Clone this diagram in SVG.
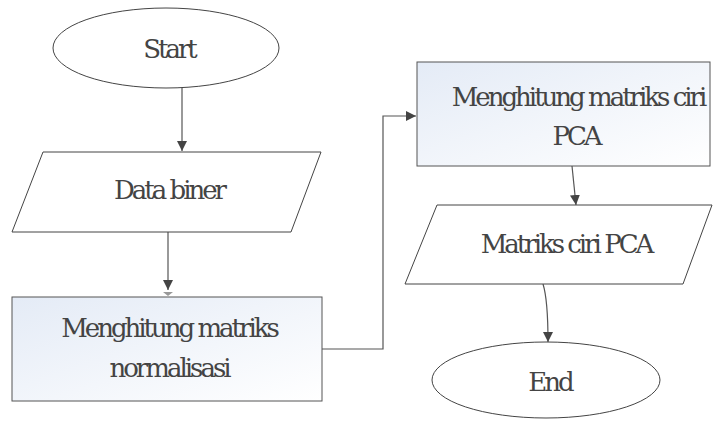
<svg xmlns="http://www.w3.org/2000/svg" width="713" height="421" viewBox="0 0 713 421">
<style>
.sh{fill:#fff;stroke:#444;stroke-width:1}
.bx{fill:url(#g);stroke:#555;stroke-width:1}
.t{font-family:'DejaVu Serif',serif;font-size:26px;letter-spacing:-3px;fill:#444;text-anchor:middle}
.c{fill:none;stroke:#555;stroke-width:1.2}
</style>
<defs>
<linearGradient id="g" x1="0" y1="0" x2="1" y2="1">
<stop offset="0" stop-color="#e4ebf6"/>
<stop offset="1" stop-color="#ffffff"/>
</linearGradient>
<marker id="a" viewBox="0 0 10 10" refX="10" refY="5" markerWidth="10" markerHeight="10" markerUnits="userSpaceOnUse" orient="auto">
<path d="M0,0 L10,5 L0,10 Z" fill="#444"/>
</marker>
</defs>
<g id="connectors">
<path class="c" d="M182,88 V151" marker-end="url(#a)"/>
<path class="c" d="M168,232 V290" marker-end="url(#a)"/>
<path d="M163,292 L173,292 L168,296 Z" fill="#999"/>
<path class="c" d="M322,349 H383 V116 H416" marker-end="url(#a)"/>
<path class="c" d="M572,166 L576,205" marker-end="url(#a)"/>
<path class="c" d="M543,284 Q548,300 548,342" marker-end="url(#a)"/>
</g>
<g id="start">
<ellipse class="sh" cx="166" cy="48" rx="113" ry="40"/>
<text class="t" x="169" y="58">Start</text>
</g>
<g id="data-biner">
<polygon class="sh" points="43,152 321,152 291,232 12,232"/>
<text class="t" x="169" y="199">Data biner</text>
</g>
<g id="normalisasi">
<rect class="bx" x="12" y="297" width="310" height="104"/>
<text class="t" x="169" y="337">Menghitung matriks</text>
<text class="t" x="169" y="377">normalisasi</text>
</g>
<g id="ciri-pca">
<rect class="bx" x="417" y="62" width="293" height="104"/>
<text class="t" x="578" y="106">Menghitung matriks ciri</text>
<text class="t" x="576" y="145">PCA</text>
</g>
<g id="matriks-ciri">
<polygon class="sh" points="437,205 712,205 683,284 405,284"/>
<text class="t" x="566" y="253">Matriks ciri PCA</text>
</g>
<g id="end">
<ellipse class="sh" cx="546" cy="380" rx="114" ry="38"/>
<text class="t" x="550" y="391">End</text>
</g>
</svg>
